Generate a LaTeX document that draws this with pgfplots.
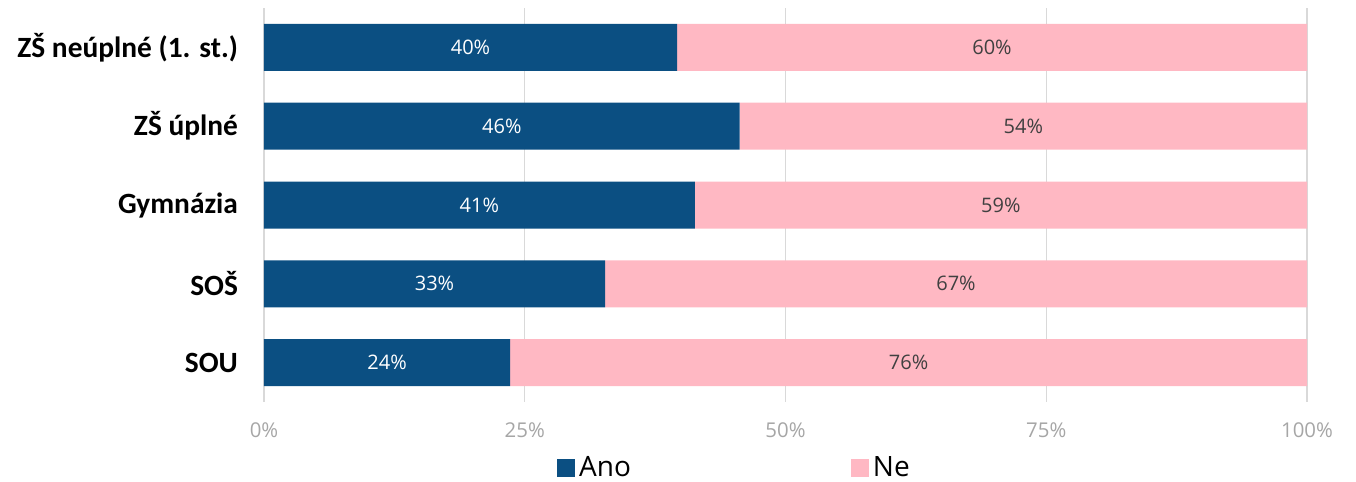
\documentclass[border=0pt]{standalone}
\usepackage{pgfplots}
\pgfplotsset{compat=1.18}
\usepackage{fontspec}
\setmainfont{Open Sans}
\newfontfamily\calfont{Carlito}
\definecolor{ano}{HTML}{0B4F82}
\definecolor{ne}{HTML}{FFB8C3}
\definecolor{tickgray}{HTML}{A6A6A6}
\definecolor{labgray}{HTML}{404040}
\definecolor{gridgray}{HTML}{D9D9D9}
\begin{document}
\begin{tikzpicture}
\begin{axis}[
    xbar stacked,
    scale only axis,
    width=521.5pt, height=197pt,
    xmin=0, xmax=100,
    ymin=-0.5, ymax=4.5,
    y dir=reverse,
    bar width=23.5pt,
    /pgf/number format/assume math mode=true,
    axis line style={draw=none},
    major tick style={draw=none},
    xmajorgrids,
    grid style={gridgray, line width=0.6pt},
    xtick={0,25,50,75,100},
    xticklabel={\pgfmathprintnumber{\tick}\%},
    xticklabel style={font=\fontsize{10.2}{12}\selectfont, text=tickgray, yshift=-7pt},
    ytick={0,1,2,3,4},
    yticklabels={ZŠ neúplné (1. st.), ZŠ úplné, Gymnázia, SOŠ, SOU},
    yticklabel style={font=\calfont\bfseries\fontsize{14.7}{17}\selectfont, xshift=-9.5pt},
    nodes near coords={\pgfmathprintnumber[fixed,precision=0]{\pgfplotspointmeta}\%},
    every node near coord/.append style={font=\fontsize{10}{12}\selectfont},
    legend style={at={(0.452,-0.168)}, anchor=center, draw=none,
        legend columns=2, font=\fontsize{14}{16}\selectfont,
        /tikz/every even column/.append style={column sep=108pt}},
    legend image code/.code={\fill[#1] (0pt,-4.5pt) rectangle (9pt,4.5pt);},
]
\addplot[fill=ano, draw=none, nodes near coords style={text=white}]
    coordinates {(39.6,0) (45.6,1) (41.3,2) (32.7,3) (23.6,4)};
\addplot[fill=ne, draw=none, nodes near coords style={text=labgray}]
    coordinates {(60.4,0) (54.4,1) (58.7,2) (67.3,3) (76.4,4)};
\legend{Ano, Ne}
\end{axis}
\pgfresetboundingbox
\path (-132pt,-40pt) rectangle (546pt,201pt);
\end{tikzpicture}
\end{document}
